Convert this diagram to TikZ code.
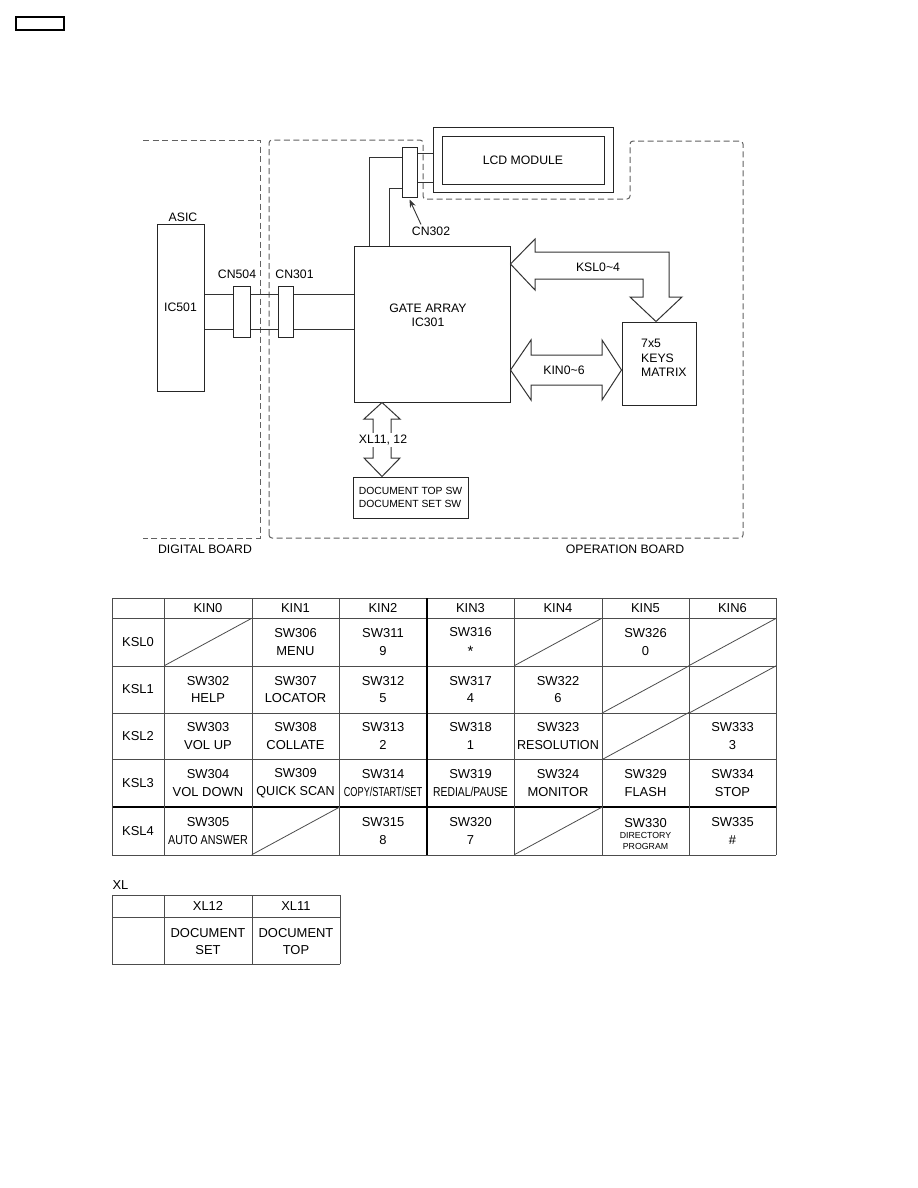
\documentclass[tikz,border=0pt]{standalone}
\usepackage{fontspec}
\setmainfont{Liberation Sans}
\usepackage{graphicx}
\usetikzlibrary{arrows.meta}
\newcommand\cnd[2]{\scalebox{#1}[1]{#2}}
\newcommand\blkfont{\fontsize{12.3}{14}\selectfont}
\newcommand\tabfont{\fontsize{13}{18}\selectfont}
\begin{document}
\begin{tikzpicture}[x=1bp,y=-1bp,
 blk/.style={draw=black!85, line width=1bp, fill=white, inner sep=0pt},
 wire/.style={draw=black!80, line width=0.9bp},
 board/.style={draw=black!62, line width=1bp, dash pattern=on 6bp off 3.5bp},
 fat/.style={draw=black!80, line width=1bp, fill=white, line join=miter},
 lbl/.style={font=\blkfont, inner sep=1bp},
 cell/.style={font=\tabfont, align=center, inner sep=0pt},
 gridl/.style={draw=black!70, line width=0.9bp},
 gridb/.style={draw=black, line width=1.3bp}]
\useasboundingbox (0,0) rectangle (918,1188);
\fill[white] (0,0) rectangle (918,1188);

% small tag box top-left
\node[draw, line width=1.2bp, minimum width=48bp, minimum height=13bp, inner sep=0pt] (tag) at (40,23.5) {};

% boards
\draw[board] (143,140) -- (260,140) -- (260,538) -- (143,538);
\draw[board, rounded corners=3bp] (269,538) -- (269,140) -- (423,140) -- (423,199) -- (630,199) -- (630,141) -- (743,141) -- (743,538) -- cycle;
\node[lbl] (dbl) at (205,549) {DIGITAL BOARD};
\node[lbl] (obl) at (625,549) {OPERATION BOARD};

% ASIC
\node[blk, minimum width=47bp, minimum height=167bp, font=\blkfont] (asic) at (180.5,307.5) {IC501};
\node[lbl] (asiclbl) at (183,217) {ASIC};

% connectors
\node[blk, minimum width=17bp, minimum height=51bp] (cn504) at (241.5,311.5) {};
\node[lbl] (cn504lbl) at (237,274) {CN504};
\node[blk, minimum width=15bp, minimum height=51bp] (cn301) at (285.5,311.5) {};
\node[lbl] (cn301lbl) at (294.5,274) {CN301};

% gate array
\node[blk, minimum width=156bp, minimum height=156bp] (ga) at (432,324) {};
\node[lbl, align=center] (gatxt) at (428,315) {GATE ARRAY\\IC301};

\coordinate (w1) at (0,294);
\coordinate (w2) at (0,329);
\foreach \w in {w1,w2}{
  \draw[wire] (asic.east |- \w) -- (cn504.west |- \w);
  \draw[wire] (cn504.east |- \w) -- (cn301.west |- \w);
  \draw[wire] (cn301.east |- \w) -- (ga.west |- \w);
}

% CN302 and LCD
\node[blk, minimum width=15bp, minimum height=50bp] (cn302) at (409.5,172) {};
\coordinate (u1) at (369,157);
\coordinate (u2) at (389,188);
\draw[wire] (cn302.west |- u1) -| (ga.north -| u1);
\draw[wire] (cn302.west |- u2) -| (ga.north -| u2);

\node[blk, minimum width=180bp, minimum height=65bp] (lcdo) at (523,159.5) {};
\node[blk, minimum width=162bp, minimum height=48bp, font=\blkfont] (lcd) at (523,160) {LCD MODULE};
\coordinate (v1) at (0,153);
\coordinate (v2) at (0,182);
\draw[wire] (cn302.east |- v1) -- (lcdo.west |- v1);
\draw[wire] (cn302.east |- v2) -- (lcdo.west |- v2);

\node[lbl] (cn302lbl) at (431,231) {CN302};
\draw[wire, -{Stealth[length=8bp,width=6bp]}] ([xshift=-10bp,yshift=1bp]cn302lbl.north) -- ([yshift=-2bp]cn302.south);

% keys matrix
\node[blk, minimum width=74bp, minimum height=83bp] (keys) at (659,363.5) {};
\node[anchor=west, align=left, font=\fontsize{12.3}{14.5}\selectfont, inner sep=0pt] (keystxt) at (641,358) {7x5\\KEYS\\MATRIX};

% KSL arrow
\draw[fat] (ga.east |- 0,264) -- (535,239) -- (535,252) -- (669,252) -- (669,297) -- (682,297) -- (keys.north -| 656,0) -- (630,297) -- (643,297) -- (643,279) -- (535,279) -- (535,290) -- cycle;
\node[lbl] (ksllbl) at (598,267) {KSL0\textasciitilde 4};

% KIN arrow
\draw[fat] (ga.east |- 0,370) -- (531,340) -- (531,355) -- (602,355) -- (602,340) -- (keys.west |- 0,370) -- (602,400) -- (602,385) -- (531,385) -- (531,400) -- cycle;
\node[lbl] (kinlbl) at (564,370) {KIN0\textasciitilde 6};

% document box
\node[blk, minimum width=115bp, minimum height=41bp, align=left, font=\fontsize{10.4}{13}\selectfont] (doc) at (410.5,497.5) {DOCUMENT TOP SW\\DOCUMENT SET SW};

% XL arrow
\draw[fat] (ga.south -| 382,0) -- (400,419) -- (391,419) -- (391,458) -- (400,458) -- (doc.north -| 382,0) -- (364,458) -- (373,458) -- (373,419) -- (364,419) -- cycle;
\node[lbl, fill=white, inner sep=2bp] (xllbl) at (383,440) {XL11, 12};

% ================= KEY TABLE =================
\foreach \y in {598,618,666,713,759,855}
  \draw[gridl] (112,\y) -- (776,\y);
\draw[gridb] (112,807) -- (776,807);
\foreach \x in {112,164,252,339,514,602,689,776}
  \draw[gridl] (\x,598) -- (\x,855);
\draw[gridb] (427,598) -- (427,855);

% headers
\foreach \t/\x [count=\i from 0] in {KIN0/208,KIN1/295.5,KIN2/383,KIN3/470.5,KIN4/558,KIN5/645.5,KIN6/732.5}
  \node[cell] (h\i) at (\x,608) {\t};
\foreach \t/\y [count=\i from 0] in {KSL0/642,KSL1/689.5,KSL2/736,KSL3/783,KSL4/831}
  \node[cell] (r\i) at (138,\y) {\t};

% cells
\node[cell] (c02) at (295.5,642) {SW306\\MENU};
\node[cell] (c03) at (383,642) {SW311\\9};
\node[cell] (c04) at (470.5,642) {SW316\\\raisebox{-3bp}{\fontsize{15}{18}\selectfont *}};
\node[cell] (c06) at (645.5,642) {SW326\\0};

\node[cell] (c11) at (208,689.5) {SW302\\HELP};
\node[cell] (c12) at (295.5,689.5) {SW307\\LOCATOR};
\node[cell] (c13) at (383,689.5) {SW312\\5};
\node[cell] (c14) at (470.5,689.5) {SW317\\4};
\node[cell] (c15) at (558,689.5) {SW322\\6};

\node[cell] (c21) at (208,736) {SW303\\VOL UP};
\node[cell] (c22) at (295.5,736) {SW308\\COLLATE};
\node[cell] (c23) at (383,736) {SW313\\2};
\node[cell] (c24) at (470.5,736) {SW318\\1};
\node[cell] (c25) at (558,736) {SW323\\\cnd{0.97}{RESOLUTION}};
\node[cell] (c27) at (732.5,736) {SW333\\3};

\node[cell] (c31) at (208,783) {SW304\\VOL DOWN};
\node[cell] (c32) at (295.5,783) {SW309\\\cnd{0.97}{QUICK SCAN}};
\node[cell] (c33) at (383,783) {SW314\\\cnd{0.71}{COPY/START/SET}};
\node[cell] (c34) at (470.5,783) {SW319\\\cnd{0.8}{REDIAL/PAUSE}};
\node[cell] (c35) at (558,783) {SW324\\MONITOR};
\node[cell] (c36) at (645.5,783) {SW329\\FLASH};
\node[cell] (c37) at (732.5,783) {SW334\\STOP};

\node[cell] (c41) at (208,831) {SW305\\\cnd{0.83}{AUTO ANSWER}};
\node[cell] (c43) at (383,831) {SW315\\8};
\node[cell] (c44) at (470.5,831) {SW320\\7};
\node[cell, font=\fontsize{13}{13}\selectfont] (c46) at (645.5,834) {SW330\\[-1bp]{\fontsize{8.8}{11}\selectfont DIRECTORY}\\[-2bp]{\fontsize{8.8}{11}\selectfont PROGRAM}};
\node[cell] (c47) at (732.5,831) {SW335\\\#};

% empty (crossed) cells
\foreach \n/\cx/\cy in {e01/208/642, e05/558/642, e07/732.5/642, e16/645.5/689.5, e17/732.5/689.5, e26/645.5/736, e42/295.5/831, e45/558/831}{
  \node[inner sep=0pt, minimum width=87bp, minimum height=47bp] (\n) at (\cx,\cy) {};
  \draw[gridl, line width=0.8bp] (\n.south west) -- (\n.north east);
}

% ================= XL TABLE =================
\node[cell, font=\fontsize{13}{15}\selectfont] (xlt) at (120.5,885) {XL};
\foreach \y in {895,917,964}
  \draw[gridl] (112,\y) -- (340,\y);
\foreach \x in {112,164,252,340}
  \draw[gridl] (\x,895) -- (\x,964);
\node[cell] (x1) at (208,906) {XL12};
\node[cell] (x2) at (296,906) {XL11};
\node[cell, font=\fontsize{13}{17}\selectfont] (x3) at (208,941.5) {DOCUMENT\\SET};
\node[cell, font=\fontsize{13}{17}\selectfont] (x4) at (296,941.5) {DOCUMENT\\TOP};
\end{tikzpicture}
\end{document}
